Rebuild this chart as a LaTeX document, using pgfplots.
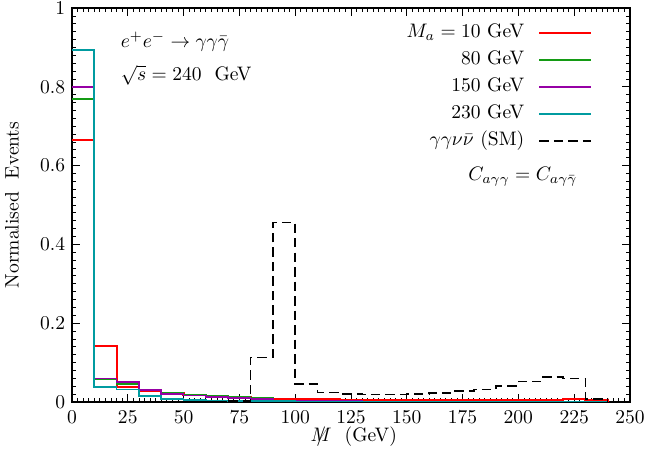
\documentclass[border=0pt]{standalone}
\usepackage{pgfplots}
\pgfplotsset{compat=1.18}

\definecolor{cRed}{RGB}{255,0,0}
\definecolor{cGreen}{RGB}{20,155,20}
\definecolor{cPurple}{RGB}{150,0,165}
\definecolor{cTeal}{RGB}{0,155,160}

% missing-mass distributions, 10 GeV bins from 0 to 240 GeV (value = left bin edge)
\pgfplotstableread{
x    ma10   ma80   ma150  ma230
0    0.666  0.769  0.799  0.893
10   0.143  0.058  0.060  0.038
20   0.037  0.045  0.050  0.032
30   0.029  0.032  0.031  0.015
40   0.023  0.024  0.020  0.008
50   0.018  0.019  0.016  0.005
60   0.014  0.015  0.012  0.004
70   0.012  0.013  0.010  0.003
80   0.009  0.010  0.007  0.002
90   0.007  0.003  0.004  0.002
100  0.006  0.002  0.003  0.001
110  0.006  0.002  0.002  0.001
120  0.005  0.001  0.002  0.001
130  0.005  0.001  0.001  0.001
140  0.005  0.001  0.001  0.001
150  0.005  0.001  0.001  0.000
160  0.005  0.001  0.001  0.000
170  0.005  0.000  0.000  0.000
180  0.005  0.000  0.000  0.000
190  0.005  0.000  0.000  0.000
200  0.005  0.000  0.000  0.000
210  0.005  0.000  0.000  0.000
220  0.008  0.000  0.000  0.000
230  0.005  0.000  0.000  0.000
240  0.000  0.000  0.000  0.000
}\signal

% SM background gamma gamma nu nubar
\pgfplotstableread{
x    sm
70   0.003
80   0.113
90   0.456
100  0.045
110  0.024
120  0.020
130  0.019
140  0.019
150  0.020
160  0.023
170  0.028
180  0.032
190  0.041
200  0.052
210  0.063
220  0.060
230  0.008
240  0.000
}\background

\begin{document}
\begin{tikzpicture}
\begin{axis}[
  scale only axis,
  width=284.6bp, height=200.9bp,
  xmin=0, xmax=250, ymin=0, ymax=1,
  xtick={0,25,...,250},
  ytick={0,0.2,...,1.0},
  minor x tick num=9,
  minor y tick num=9,
  tick align=inside,
  major tick length=4bp,
  minor tick length=2bp,
  every tick/.style={black, line width=0.4pt},
  axis line style={line width=0.6pt},
  xticklabel style={yshift=-1bp},
  xlabel={\ooalign{$M$\cr\hidewidth$/$\hidewidth\cr}~~(GeV)},
  ylabel={Normalised~~Events},
  xlabel style={at={(axis description cs:0.505,-0.0888)}, anchor=center},
  ylabel style={at={(axis description cs:-0.1075,0.5)}, anchor=center},
  every axis plot/.append style={line width=0.8pt, const plot mark left},
  legend plot pos=right,
  legend cell align=right,
  legend image code/.code={\draw[#1] (0bp,0bp) -- (26.5bp,0bp);},
  legend style={
    at={(axis cs:233.3,0.960)}, anchor=north east,
    draw=none, fill=none, inner sep=0pt,
    row sep=4.3bp,
    nodes={inner sep=0pt, text height=7bp, text depth=2.4bp},
    /tikz/column 1/.style={column sep=7.1bp},
  },
]
\addplot[color=cRed, line width=1.1pt]    table[x=x, y=ma10]  {\signal};
\addlegendentry{$M_a = 10$ GeV}
\addplot[color=cGreen]  table[x=x, y=ma80]  {\signal};
\addlegendentry{80 GeV}
\addplot[color=cPurple] table[x=x, y=ma150] {\signal};
\addlegendentry{150 GeV}
\addplot[color=cTeal]   table[x=x, y=ma230] {\signal};
\addlegendentry{230 GeV}
\addplot[black, dash pattern=on 4.8bp off 2.6bp] table[x=x, y=sm] {\background};
\addlegendentry{$\gamma\gamma\nu\bar{\nu}$ (SM)}

\node[anchor=west] at (axis cs:18.8,0.915) {$e^+e^- \to \gamma\gamma\bar{\gamma}$};
\node[anchor=west] at (axis cs:18.8,0.83) {$\sqrt{s} = 240$~~GeV};
\node[anchor=base] at (axis cs:202,0.563) {$C_{a\gamma\gamma} = C_{a\gamma\bar{\gamma}}$};
\end{axis}
\pgfresetboundingbox
\path ([shift={(-36.7bp,-30.1bp)}]current axis.south west)
  rectangle ([shift={(9.2bp,4.1bp)}]current axis.north east);
\end{tikzpicture}
\end{document}
